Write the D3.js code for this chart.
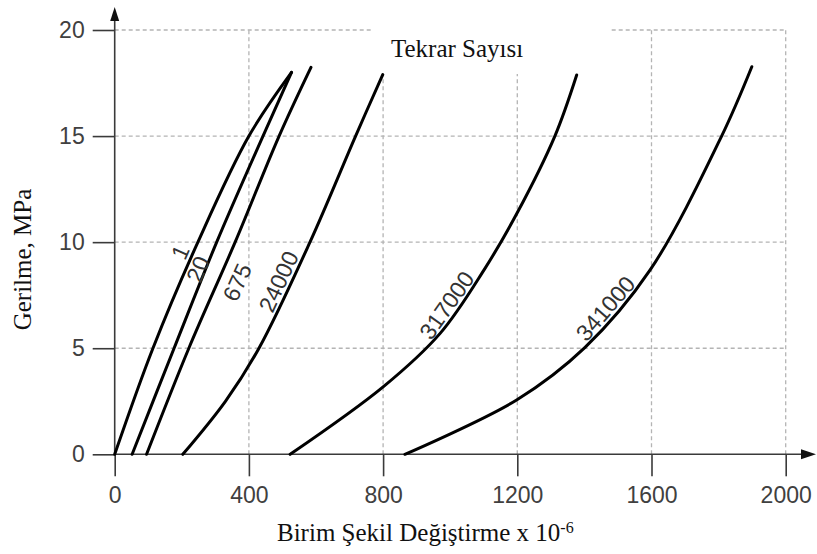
<!DOCTYPE html>
<html>
<head>
<meta charset="utf-8">
<script src="https://cdn.jsdelivr.net/npm/d3@7"></script>
<style>
  html, body { margin: 0; padding: 0; background: #fff; }
  svg { display: block; }
</style>
</head>
<body>
<svg id="chart" width="817" height="554"></svg>
<script>
// Stress–strain curves of a material under repeated loading
// (strain in micro-strain, stress in MPa), one curve per cycle count.
const strainTicks = [0, 400, 800, 1200, 1600, 2000];
const stressTicks = [0, 5, 10, 15, 20];
const cycleLabels = ["1", "20", "675", "24000", "317000", "341000"];

const curve1      = [[0, 0], [114, 5], [248, 10], [400, 15], [527, 18]];
const curve20     = [[52, 0], [177, 5], [304, 10], [442, 15], [527, 18]];
const curve675    = [[95, 0], [221, 5], [359, 10], [490, 15], [585, 18.24]];
const curve24000  = [[203, 0], [330, 2.5], [430, 5], [582, 10], [718, 15], [799, 17.9]];
const curve317000 = [[523, 0], [801, 3.19], [970, 5.7], [1100, 8.67], [1199, 11.36], [1312, 15], [1377, 17.88]];
const curve341000 = [[865, 0], [1198, 2.56], [1402, 5.04], [1596, 8.69], [1809, 15], [1899, 18.27]];

// stress level on each curve where its cycle count is written
const labelStress = [9.3, 8.6, 8.45, 7.9, 6.7, 6.5];

const curves = [curve1, curve20, curve675, curve24000, curve317000, curve341000];

// baseline offset of each label across its curve (negative: upper-left side)
const labelOffset = [-4, 1, 26, -4, -4, -4];

const svg = d3.select("#chart");

const x = d3.scaleLinear().domain([0, 2000]).range([114.7, 785.7]);
const y = d3.scaleLinear().domain([0, 20]).range([454.3, 30]);

const axisColor = "#3a3a3a";
const gridColor = "#b4b4b4";

// grid
const grid = svg.append("g").attr("class", "grid");
grid.selectAll("line.v")
  .data(strainTicks.filter(d => d > 0))
  .join("line")
  .attr("class", "v")
  .attr("x1", d => x(d)).attr("x2", d => x(d))
  .attr("y1", y(0)).attr("y2", y(20))
  .attr("stroke", gridColor).attr("stroke-width", 1.3)
  .attr("stroke-dasharray", "4 3");
grid.selectAll("line.h")
  .data(stressTicks.filter(d => d > 0))
  .join("line")
  .attr("class", "h")
  .attr("x1", x(0)).attr("x2", x(2000))
  .attr("y1", d => y(d)).attr("y2", d => y(d))
  .attr("stroke", gridColor).attr("stroke-width", 1.3)
  .attr("stroke-dasharray", "4 3");

// title block sits over the grid
svg.append("rect")
  .attr("x", 373).attr("y", 24).attr("width", 237).attr("height", 50)
  .attr("fill", "#fff");
svg.append("text")
  .attr("x", 391).attr("y", 56.5)
  .attr("font-family", "'Liberation Serif', 'Times New Roman', serif")
  .attr("font-size", 25)
  .attr("fill", "#111")
  .text("Tekrar Sayısı");

// axes with ticks
const tickFont = "'Liberation Sans', Arial, sans-serif";
const fmt = d3.format("d");
const yAxis = svg.append("g")
  .attr("transform", `translate(${x(0)},0)`)
  .call(d3.axisLeft(y).tickValues(stressTicks).tickFormat(fmt)
    .tickSize(22).tickPadding(8).tickSizeOuter(0));
const xAxis = svg.append("g")
  .attr("transform", `translate(0,${y(0)})`)
  .call(d3.axisBottom(x).tickValues(strainTicks).tickFormat(fmt)
    .tickSize(22).tickPadding(10).tickSizeOuter(0));
[yAxis, xAxis].forEach(a => {
  a.select(".domain").remove();
  a.selectAll(".tick line").attr("stroke", axisColor).attr("stroke-width", 1.6);
  a.selectAll(".tick text")
    .attr("font-family", tickFont).attr("font-size", 23).attr("fill", "#404040");
});

// axis lines with arrow heads
svg.append("line")
  .attr("x1", x(0)).attr("x2", x(0)).attr("y1", y(0)).attr("y2", 18)
  .attr("stroke", axisColor).attr("stroke-width", 1.6);
svg.append("path")
  .attr("d", `M${x(0)},7 L${x(0) - 4.5},21 L${x(0) + 4.5},21 Z`)
  .attr("fill", "#111");
svg.append("line")
  .attr("x1", x(0)).attr("x2", 803).attr("y1", y(0)).attr("y2", y(0))
  .attr("stroke", axisColor).attr("stroke-width", 1.6);
svg.append("path")
  .attr("d", `M816,${y(0)} L801,${y(0) - 5} L801,${y(0) + 5} Z`)
  .attr("fill", "#111");

// curves
const line = d3.line()
  .x(d => x(d[0]))
  .y(d => y(d[1]))
  .curve(d3.curveCatmullRom.alpha(0.5));

const curveG = svg.append("g");
const paths = curveG.selectAll("path")
  .data(curves)
  .join("path")
  .attr("d", line)
  .attr("fill", "none")
  .attr("stroke", "#000")
  .attr("stroke-width", 3)
  .attr("stroke-linecap", "round");

// cycle-count labels written along each curve
const labelG = svg.append("g");
paths.each(function (d, i) {
  const node = this;
  const total = node.getTotalLength();
  const targetY = y(labelStress[i]);
  let lo = 0, hi = total;
  for (let k = 0; k < 40; k++) {
    const mid = (lo + hi) / 2;
    if (node.getPointAtLength(mid).y > targetY) lo = mid; else hi = mid;
  }
  const L = (lo + hi) / 2;
  const p = node.getPointAtLength(L);
  const a = node.getPointAtLength(Math.max(0, L - 3));
  const b = node.getPointAtLength(Math.min(total, L + 3));
  const angle = Math.atan2(b.y - a.y, b.x - a.x) * 180 / Math.PI;
  labelG.append("text")
    .attr("transform", `translate(${p.x},${p.y}) rotate(${angle})`)
    .attr("x", 0)
    .attr("y", labelOffset[i])
    .attr("text-anchor", "middle")
    .attr("font-family", tickFont)
    .attr("font-size", 23)
    .attr("fill", "#333")
    .text(cycleLabels[i]);
});

// axis titles
const serif = "'Liberation Serif', 'Times New Roman', serif";
svg.append("text")
  .attr("transform", `translate(31,259.5) rotate(-90)`)
  .attr("text-anchor", "middle")
  .attr("font-family", serif).attr("font-size", 25).attr("fill", "#111")
  .text("Gerilme, MPa");
const xt = svg.append("text")
  .attr("x", 277).attr("y", 541)
  .attr("font-family", serif).attr("font-size", 25).attr("fill", "#111");
xt.append("tspan").text("Birim Şekil Değiştirme x 10");
xt.append("tspan").attr("font-size", 16).attr("dy", -8).text("-6");
</script>
</body>
</html>
